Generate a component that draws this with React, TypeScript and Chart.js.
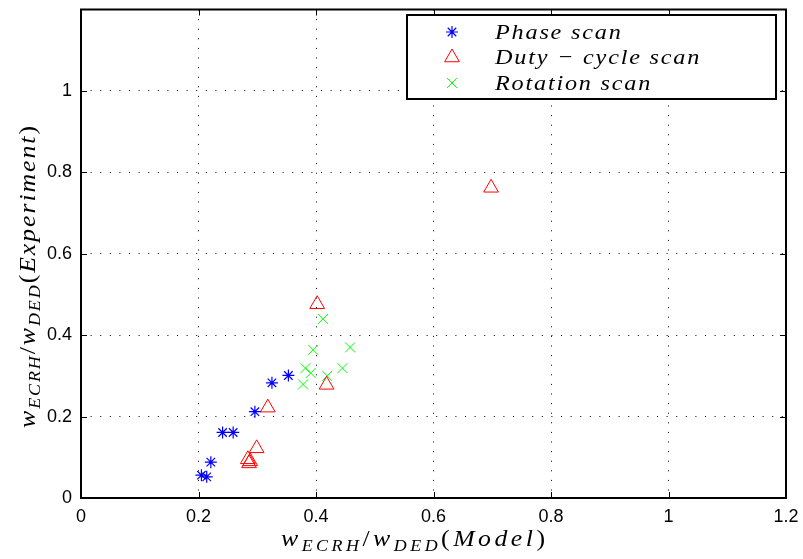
import React, { useEffect, useRef } from 'react';
import { Chart, registerables } from 'chart.js';
import { drawPoint } from 'chart.js/helpers';

Chart.register(...registerables);

const phaseX = [0.205, 0.214, 0.221, 0.241, 0.259, 0.296, 0.325, 0.353];
const phaseY = [0.056, 0.052, 0.088, 0.161, 0.161, 0.212, 0.283, 0.301];
const dutyX = [0.402, 0.418, 0.318, 0.299, 0.284, 0.288, 0.286, 0.698];
const dutyY = [0.476, 0.278, 0.222, 0.122, 0.095, 0.09, 0.085, 0.762];
const rotX = [0.412, 0.395, 0.458, 0.382, 0.391, 0.445, 0.419, 0.378];
const rotY = [0.44, 0.364, 0.37, 0.319, 0.307, 0.319, 0.3, 0.279];
const xTicks = [0, 0.2, 0.4, 0.6, 0.8, 1, 1.2];
const yTicks = [0, 0.2, 0.4, 0.6, 0.8, 1];
const seriesNames = ['Phase scan', 'Duty \u2212 cycle scan', 'Rotation scan'];
const seriesColors = ['#0000ff', '#ff0000', '#00ff00'];
const seriesStyles = ['star', 'triangle', 'crossRot'];
const seriesRadius = [6, 8.5, 7];
const seriesWidth = [1.2, 1, 1];

type Part = { t: string; sub?: boolean; up?: boolean };
const xLabelParts: Part[] = [
  { t: 'w' }, { t: 'ECRH', sub: true }, { t: '/', up: true }, { t: 'w' }, { t: 'DED', sub: true },
  { t: '(', up: true }, { t: 'Model' }, { t: ')', up: true },
];
const yLabelParts: Part[] = [
  { t: 'w' }, { t: 'ECRH', sub: true }, { t: '/', up: true }, { t: 'w' }, { t: 'DED', sub: true },
  { t: '(', up: true }, { t: 'Experiment' }, { t: ')', up: true },
];

const SERIF = '"Liberation Serif", "DejaVu Serif", serif';
const MAIN = 23;
const SUB = 16;
const STRETCH = 1.12;

function partFont(p: Part) {
  if (p.sub) return `italic ${SUB}px ${SERIF}`;
  if (p.up) return `${MAIN}px ${SERIF}`;
  return `italic ${MAIN}px ${SERIF}`;
}

// draws text slightly stretched and spaced to fill a target width, centred on cx
function drawMath(ctx: CanvasRenderingContext2D, parts: Part[], cx: number, baseline: number, target: number) {
  let natural = 0;
  let n = 0;
  for (const p of parts) {
    ctx.font = partFont(p);
    for (const ch of p.t) {
      natural += ctx.measureText(ch).width;
      n++;
    }
  }
  const sx = STRETCH;
  const sp = Math.max(0, (target - natural * sx) / (n - 1));
  ctx.save();
  ctx.translate(cx - target / 2, baseline);
  ctx.scale(sx, 1);
  ctx.textAlign = 'left';
  ctx.textBaseline = 'alphabetic';
  let x = 0;
  for (const p of parts) {
    ctx.font = partFont(p);
    for (const ch of p.t) {
      ctx.fillText(ch, x, p.sub ? 5 : 0);
      x += ctx.measureText(ch).width + sp / sx;
    }
  }
  ctx.restore();
}

function drawStretched(ctx: CanvasRenderingContext2D, text: string, x: number, y: number, sx: number, sp: number) {
  ctx.save();
  ctx.translate(x, y);
  ctx.scale(sx, 1);
  let cx = 0;
  for (const ch of text) {
    ctx.fillText(ch, cx, 0);
    cx += ctx.measureText(ch).width + sp / sx;
  }
  ctx.restore();
}

const framePlugin = {
  id: 'frame',
  afterDraw(chart: any) {
    const ctx: CanvasRenderingContext2D = chart.ctx;
    const { left, right, top, bottom } = chart.chartArea;
    const xs = chart.scales.x;
    const ys = chart.scales.y;
    ctx.save();
    ctx.strokeStyle = '#000';
    // inward ticks
    ctx.lineWidth = 1;
    ctx.beginPath();
    for (const v of xTicks) {
      const px = Math.round(xs.getPixelForValue(v)) + 0.5;
      ctx.moveTo(px, bottom); ctx.lineTo(px, bottom - 6);
      ctx.moveTo(px, top); ctx.lineTo(px, top + 6);
    }
    for (const v of yTicks) {
      const py = Math.round(ys.getPixelForValue(v)) + 0.5;
      ctx.moveTo(left, py); ctx.lineTo(left + 6, py);
      ctx.moveTo(right, py); ctx.lineTo(right - 6, py);
    }
    ctx.stroke();
    // box
    ctx.lineWidth = 2;
    ctx.strokeRect(left, top, right - left, bottom - top);

    // legend
    ctx.fillStyle = '#fff';
    ctx.fillRect(407, 15, 369, 84);
    ctx.lineWidth = 2;
    ctx.strokeRect(407, 15, 369, 84);
    const rows = [32, 57.5, 83];
    for (let i = 0; i < seriesNames.length; i++) {
      ctx.save();
      ctx.strokeStyle = seriesColors[i];
      ctx.fillStyle = 'rgba(0,0,0,0)';
      ctx.lineWidth = seriesWidth[i];
      drawPoint(ctx, { pointStyle: seriesStyles[i], rotation: 0, radius: seriesRadius[i], borderWidth: seriesWidth[i] } as any, 452, rows[i]);
      ctx.restore();
      ctx.fillStyle = '#000';
      ctx.font = `italic 22px ${SERIF}`;
      ctx.textAlign = 'left';
      ctx.textBaseline = 'middle';
      drawStretched(ctx, seriesNames[i], 495, rows[i] + 1, 1.1, 1.8);
    }

    // axis titles
    ctx.fillStyle = '#000';
    drawMath(ctx, xLabelParts, 413, 546, 264);
    ctx.save();
    ctx.translate(35, 277);
    ctx.rotate(-Math.PI / 2);
    drawMath(ctx, yLabelParts, 0, 0, 302);
    ctx.restore();
    ctx.restore();
  },
};

function fmt(v: number) {
  return String(+v.toFixed(1));
}

export default function App() {
  const ref = useRef<HTMLCanvasElement | null>(null);
  useEffect(() => {
    if (!ref.current) return;
    const mk = (xs: number[], ys: number[]) => xs.map((x, i) => ({ x, y: ys[i] }));
    const chart = new Chart(ref.current, {
      type: 'scatter',
      data: {
        datasets: [
          { label: seriesNames[0], data: mk(phaseX, phaseY) },
          { label: seriesNames[1], data: mk(dutyX, dutyY) },
          { label: seriesNames[2], data: mk(rotX, rotY) },
        ].map((d, i) => ({
          ...d,
          pointStyle: seriesStyles[i] as any,
          pointRadius: seriesRadius[i],
          pointHoverRadius: seriesRadius[i],
          borderColor: seriesColors[i],
          backgroundColor: 'rgba(0,0,0,0)',
          pointBorderWidth: seriesWidth[i],
          borderWidth: seriesWidth[i],
        })),
      },
      options: {
        responsive: false,
        maintainAspectRatio: false,
        animation: false,
        events: [],
        layout: { padding: { left: 0, right: 17, top: 4, bottom: 0 } },
        plugins: { legend: { display: false }, tooltip: { enabled: false }, title: { display: false } },
        scales: {
          x: {
            type: 'linear',
            min: 0,
            max: 1.2,
            afterBuildTicks: (s: any) => { s.ticks = xTicks.map((v) => ({ value: v })); },
            afterFit: (s: any) => { s.height = 61; s.paddingLeft = 0; s.paddingRight = 0; },
            ticks: {
              padding: 8,
              color: '#000',
              font: { family: '"Liberation Sans", Arial, sans-serif', size: 18 },
              maxRotation: 0,
              autoSkip: false,
              callback: (v: any) => fmt(Number(v)),
            },
            grid: {
              drawTicks: false,
              color: (c: any) => (c.tick && (c.tick.value === 0 || c.tick.value === 1.2) ? 'rgba(0,0,0,0)' : '#000'),
              lineWidth: 1,
            },
            border: { display: false, dash: [1, 8.6] },
          },
          y: {
            type: 'linear',
            min: 0,
            max: 1.2,
            afterBuildTicks: (s: any) => { s.ticks = yTicks.map((v) => ({ value: v })); },
            afterFit: (s: any) => { s.width = 81; s.paddingTop = 0; s.paddingBottom = 0; },
            ticks: {
              padding: 9,
              color: '#000',
              font: { family: '"Liberation Sans", Arial, sans-serif', size: 18 },
              autoSkip: false,
              callback: (v: any) => fmt(Number(v)),
            },
            grid: {
              drawTicks: false,
              color: (c: any) => (c.tick && c.tick.value === 0 ? 'rgba(0,0,0,0)' : '#000'),
              lineWidth: 1,
            },
            border: { display: false, dash: [1, 8.6] },
          },
        },
      },
      plugins: [framePlugin],
    });
    return () => chart.destroy();
  }, []);
  return (
    <div style={{ position: 'absolute', left: 0, top: 0, width: 803, height: 559, background: '#fff' }}>
      <canvas ref={ref} width={803} height={559} />
    </div>
  );
}
